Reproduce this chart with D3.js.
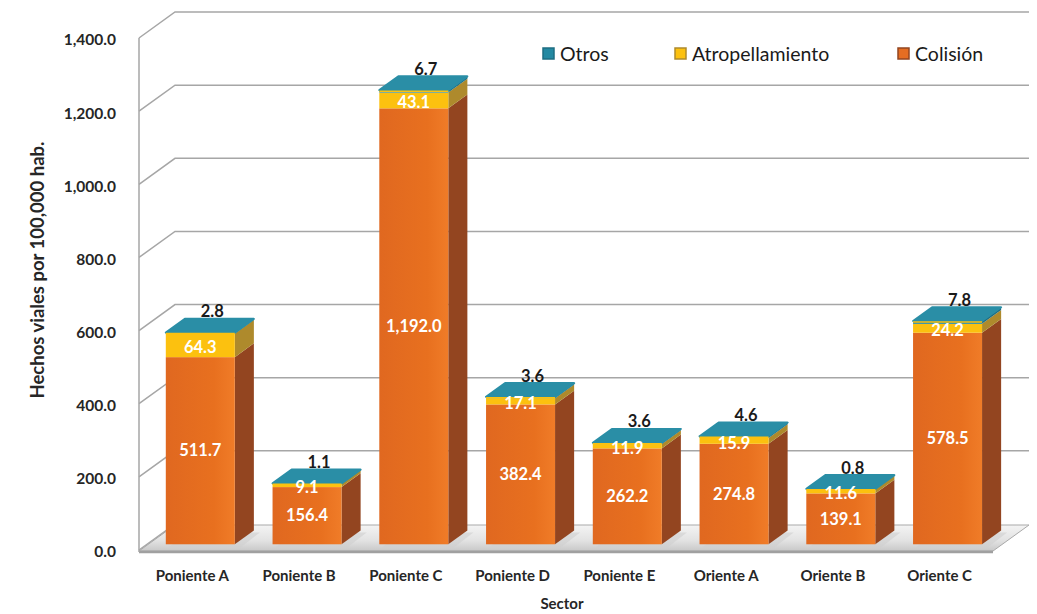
<!DOCTYPE html>
<html>
<head>
<meta charset="utf-8">
<script src="https://cdn.jsdelivr.net/npm/d3@7"></script>
<style>
  body { margin: 0; background: #fff; }
  svg { display: block; font-family: Lato, "Open Sans", sans-serif; }
</style>
</head>
<body>
<svg id="chart" width="1037" height="614"></svg>
<script>
// data
var sectors = ["Poniente A", "Poniente B", "Poniente C", "Poniente D", "Poniente E", "Oriente A", "Oriente B", "Oriente C"];
var colision = [511.7, 156.4, 1192.0, 382.4, 262.2, 274.8, 139.1, 578.5];
var atropellamiento = [64.3, 9.1, 43.1, 17.1, 11.9, 15.9, 11.6, 24.2];
var otros = [2.8, 1.1, 6.7, 3.6, 3.6, 4.6, 0.8, 7.8];
var seriesNames = ["Colisión", "Atropellamiento", "Otros"];
var yTicks = [0, 200, 400, 600, 800, 1000, 1200, 1400];

var colors = {
    "Colisión": {front: "#E56D22", side: "#934520", top: "#EF7D2E"},
    "Atropellamiento": {front: "#FCC10F", side: "#AE8A2C", top: "#FFD23C"},
    "Otros": {front: "#2389A2", side: "#1E6E82", top: "#2A8EA6"}
};

var svg = d3.select('#chart');

// plot frame (front plane of the 3D box)
var plot = {l: 139, r: 993, t: 38, b: 550};
var depth = {dx: 36, dy: -26};

var xScale = d3.scaleBand()
    .domain(sectors)
    .range([plot.l, plot.r]);
var yScale = d3.scaleLinear()
    .domain([0, 1400])
    .range([plot.b, plot.t]);

// project a point at depth z (0 = front, 1 = back wall)
function px(x, z) { return x + z * depth.dx; }
function py(v, z) { return yScale(v) + z * depth.dy; }

var defs = svg.append('defs');
var floorGrad = defs.append('linearGradient')
    .attr('id', 'floorGrad').attr('x1', 0).attr('y1', 0).attr('x2', 0).attr('y2', 1);
floorGrad.append('stop').attr('offset', '0%').attr('stop-color', '#f4f4f4');
floorGrad.append('stop').attr('offset', '60%').attr('stop-color', '#e2e2e2');
floorGrad.append('stop').attr('offset', '100%').attr('stop-color', '#c8c8c8');

var frontGrad = defs.append('linearGradient')
    .attr('id', 'frontGrad').attr('x1', 0).attr('y1', 0).attr('x2', 1).attr('y2', 0);
frontGrad.append('stop').attr('offset', '0%').attr('stop-color', '#E06820');
frontGrad.append('stop').attr('offset', '70%').attr('stop-color', '#E8701F');
frontGrad.append('stop').attr('offset', '100%').attr('stop-color', '#F07C28');

// floor
var floorPts = [[plot.l, plot.b + 1], [plot.r, plot.b + 1], [px(plot.r, 1), py(0, 1) + 1], [px(plot.l, 1), py(0, 1) + 1]];
svg.append('polygon')
    .attr('points', floorPts.join(' '))
    .attr('fill', 'url(#floorGrad)')
    .attr('stroke', '#a9a9a9')
    .attr('stroke-width', 1);
svg.append('line')
    .attr('x1', plot.l).attr('x2', plot.r)
    .attr('y1', plot.b + 2).attr('y2', plot.b + 2)
    .attr('stroke', '#a0a0a0').attr('stroke-width', 2.5);

// gridlines: left wall diagonals and back wall horizontals
var grid = svg.append('g').attr('class', 'grid');
grid.selectAll('.diag').data(yTicks).enter().append('polyline')
    .attr('fill', 'none')
    .attr('stroke', '#a6a6a6')
    .attr('stroke-width', 1.5)
    .attr('points', function(d) {
        var pts = [[plot.l, py(d, 0)], [px(plot.l, 1), py(d, 1)]];
        if (d > 0) pts.push([px(plot.r, 1), py(d, 1)]);
        return pts.join(' ');
    });
grid.append('line')
    .attr('x1', plot.l).attr('x2', plot.l)
    .attr('y1', yScale(1400)).attr('y2', plot.b + 2)
    .attr('stroke', '#a6a6a6').attr('stroke-width', 1.5);

// y axis labels
var yAxis = d3.axisLeft(yScale)
    .tickValues(yTicks)
    .tickSize(0)
    .tickPadding(23)
    .tickFormat(d3.format(',.1f'));
var yAxisG = svg.append('g')
    .attr('transform', 'translate(' + [plot.l, 2] + ')')
    .call(yAxis);
yAxisG.select('.domain').remove();
yAxisG.selectAll('text')
    .style('font-family', 'Lato, sans-serif')
    .style('font-size', '15.5px')
    .style('font-weight', 'bold')
    .attr('fill', '#262626');

// x axis labels
var xAxis = d3.axisBottom(xScale).tickSize(0).tickPadding(20);
var xAxisG = svg.append('g')
    .attr('transform', 'translate(' + [0, plot.b] + ')')
    .call(xAxis);
xAxisG.select('.domain').remove();
xAxisG.selectAll('text')
    .style('font-family', 'Lato, sans-serif')
    .style('font-size', '15px')
    .style('font-weight', 'bold')
    .attr('fill', '#262626');

// build stacked segments
var table = sectors.map(function(s, i) {
    return {sector: s, "Colisión": colision[i], "Atropellamiento": atropellamiento[i], "Otros": otros[i]};
});
var stack = d3.stack().keys(seriesNames)(table);

var zFront = 0.22, zBack = 0.75;
var barW = 69;
var barShift = (xScale.bandwidth() - barW) / 2;

var barsG = svg.append('g').attr('class', 'bars');

// floor shadows
barsG.selectAll('.shadow').data(table).enter().append('polygon')
    .attr('fill', '#cfcfcf')
    .attr('opacity', 0.6)
    .attr('points', function(d) {
        var x0 = xScale(d.sector) + barShift;
        return [[px(x0, zFront) + 3, py(0, zFront) + 3], [px(x0 + barW, zFront) + 6, py(0, zFront) + 3],
            [px(x0 + barW, zBack) + 6, py(0, zBack) + 2], [px(x0, zBack) + 3, py(0, zBack) + 2]].join(' ');
    });

table.forEach(function(row, i) {
    var x0 = xScale(row.sector) + barShift;
    var x1 = x0 + barW;
    var g = barsG.append('g').attr('class', 'bar');
    stack.forEach(function(layer) {
        var key = layer.key;
        var v0 = layer[i][0], v1 = layer[i][1];
        var c = colors[key];
        // side face
        g.append('polygon')
            .attr('fill', c.side)
            .attr('points', [[px(x1, zFront), py(v0, zFront)], [px(x1, zBack), py(v0, zBack)],
                [px(x1, zBack), py(v1, zBack)], [px(x1, zFront), py(v1, zFront)]].join(' '));
        // front face
        g.append('rect')
            .attr('x', px(x0, zFront))
            .attr('y', py(v1, zFront))
            .attr('width', barW)
            .attr('height', Math.max(0, py(v0, zFront) - py(v1, zFront)))
            .attr('fill', key === "Colisión" ? 'url(#frontGrad)' : c.front);
    });
    // top face
    var tot = colision[i] + atropellamiento[i] + otros[i];
    g.append('polygon')
        .attr('fill', colors["Otros"].top)
        .attr('stroke', '#2a8ea6')
        .attr('stroke-linejoin', 'round')
        .attr('stroke-width', 2)
        .attr('points', [[px(x0, zFront), py(tot, zFront)], [px(x1, zFront), py(tot, zFront)],
            [px(x1, zBack), py(tot, zBack)], [px(x0, zBack), py(tot, zBack)]].join(' '));
    // thin yellow rim at the top edge of the front face
    g.append('line')
        .attr('x1', px(x0, zFront)).attr('x2', px(x1, zFront))
        .attr('y1', py(tot, zFront) + 1).attr('y2', py(tot, zFront) + 1)
        .attr('stroke', colors["Atropellamiento"].front).attr('stroke-width', 1.5);

    var cx = px(x0 + barW / 2, zFront);
    // labels
    g.append('text')
        .attr('x', cx)
        .attr('y', (py(0, zFront) + py(colision[i], zFront)) / 2)
        .attr('dy', '0.35em')
        .attr('text-anchor', 'middle')
        .attr('fill', '#fff')
        .style('font-size', '16.5px')
        .style('font-weight', 'bold')
        .text(d3.format(',.1f')(colision[i]));
    g.append('text')
        .attr('x', cx)
        .attr('y', (py(colision[i], zFront) + py(colision[i] + atropellamiento[i], zFront)) / 2 + 2)
        .attr('dy', '0.35em')
        .attr('text-anchor', 'middle')
        .attr('fill', '#fff')
        .style('font-size', '16.5px')
        .style('font-weight', 'bold')
        .text(d3.format(',.1f')(atropellamiento[i]));
    g.append('text')
        .attr('x', cx + 12)
        .attr('y', py(tot, zFront) - 21)
        .attr('dy', '0.35em')
        .attr('text-anchor', 'middle')
        .attr('fill', '#1a1a1a')
        .style('font-size', '16.5px')
        .style('font-weight', 'bold')
        .text(d3.format(',.1f')(otros[i]));
});

// legend
var legendItems = [
    {name: "Otros", x: 543},
    {name: "Atropellamiento", x: 675},
    {name: "Colisión", x: 898}
];
var legend = svg.append('g').attr('class', 'legend');
legendItems.forEach(function(d) {
    var c = colors[d.name];
    legend.append('rect')
        .attr('x', d.x).attr('y', 48)
        .attr('width', 11).attr('height', 11)
        .attr('fill', c.front)
        .attr('stroke', c.side).attr('stroke-width', 1.5);
    legend.append('text')
        .attr('x', d.x + 17).attr('y', 54)
        .attr('dy', '0.35em')
        .attr('fill', '#1a1a1a')
        .style('font-size', '19.5px')
        .text(d.name);
});

// axis titles
svg.append('text')
    .attr('x', 562).attr('y', 604)
    .attr('dy', '0.35em')
    .attr('text-anchor', 'middle')
    .attr('fill', '#262626')
    .style('font-size', '15px')
    .style('font-weight', 'bold')
    .text('Sector');
svg.append('text')
    .attr('transform', 'translate(38,270) rotate(-90)')
    .attr('dy', '0.35em')
    .attr('text-anchor', 'middle')
    .attr('fill', '#262626')
    .style('font-size', '18.5px')
    .style('font-weight', 'bold')
    .text('Hechos viales por 100,000 hab.');
</script>
</body>
</html>
